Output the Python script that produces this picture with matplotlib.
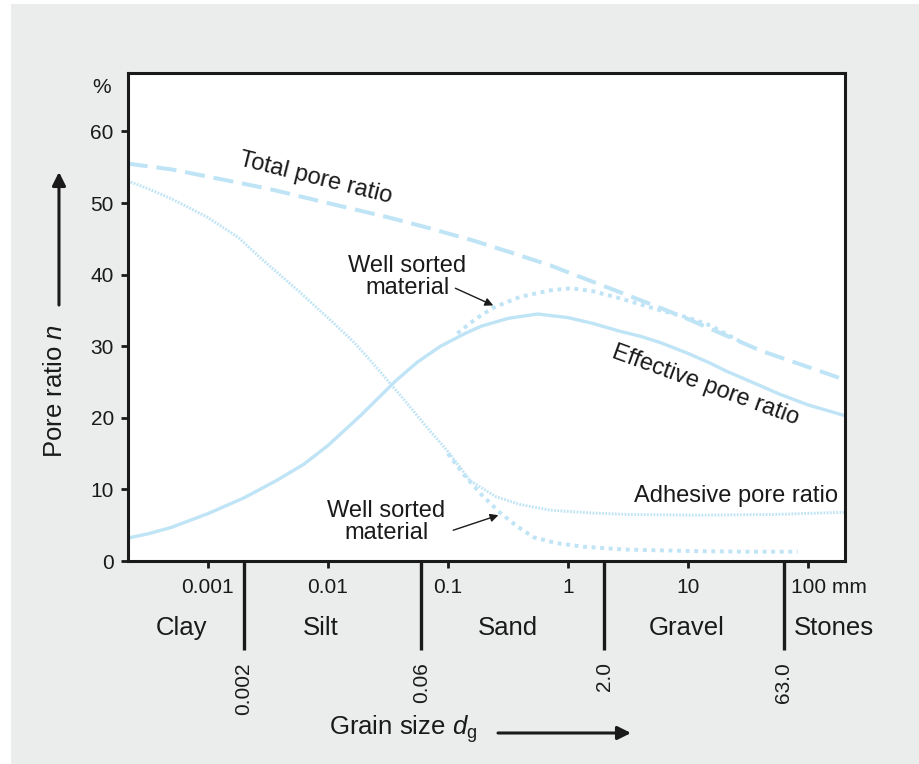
import matplotlib
matplotlib.use("Agg")
import matplotlib.pyplot as plt
from matplotlib.patches import Rectangle
from matplotlib.transforms import ScaledTranslation

plt.rcParams['font.family'] = ['Liberation Sans', 'DejaVu Sans']
plt.rcParams['mathtext.fontset'] = 'custom'
plt.rcParams['mathtext.rm'] = 'Liberation Sans'
plt.rcParams['mathtext.it'] = 'Liberation Sans:italic'

# grain size in mm, pore ratio in %
size_total = [2.16e-4, 5e-4, 1e-3, 3.2e-3, 0.01, 0.032, 0.063, 0.16, 0.32,
              0.71, 2, 6, 10, 20, 40, 100, 203]
total = [55.5, 54.7, 53.7, 52.0, 50.0, 48.0, 46.7, 44.8, 43.2,
         41.3, 38.4, 35.3, 33.8, 31.6, 29.4, 27.1, 25.3]

size_eff = [2.16e-4, 3.2e-4, 5e-4, 1e-3, 2e-3, 3.8e-3, 6.3e-3, 0.01, 0.019,
            0.037, 0.056, 0.087, 0.14, 0.19, 0.32, 0.56, 1.0, 1.6, 2.7, 4,
            5.9, 10, 15, 21, 35, 58, 100, 203]
effective = [3.2, 3.8, 4.7, 6.6, 8.8, 11.3, 13.5, 16.1, 20.4,
             25.2, 27.8, 30.0, 31.8, 32.8, 33.9, 34.5, 34.0, 33.2, 32.1, 31.4,
             30.5, 29.0, 27.7, 26.5, 24.9, 23.3, 21.8, 20.3]

size_adh = [2.16e-4, 3.2e-4, 5e-4, 1e-3, 1.8e-3, 2.9e-3, 5.9e-3, 0.01, 0.016,
            0.0227, 0.04, 0.063, 0.1, 0.154, 0.25, 0.4, 0.71, 1.6, 3.2,
            12.6, 50, 203]
adhesive = [53.1, 52.0, 50.6, 48.0, 45.2, 42.0, 37.5, 34.0, 30.8,
            28.0, 23.2, 19.2, 15.3, 11.2, 9.0, 7.9, 7.1, 6.7, 6.5,
            6.4, 6.5, 6.8]

size_ws_adh = [0.1, 0.14, 0.19, 0.27, 0.38, 0.52, 0.8, 1.34, 3, 10, 30, 82]
ws_adhesive = [15.0, 11.8, 9.3, 6.8, 4.8, 3.3, 2.5, 2.0, 1.6, 1.4, 1.3, 1.3]

size_ws_eff = [0.12, 0.17, 0.24, 0.4, 0.71, 1.05, 1.6, 2.7, 5.9, 10, 15.3, 27]
ws_effective = [31.8, 33.8, 35.4, 36.9, 37.8, 38.1, 37.7, 36.7, 35.0, 34.0, 32.9, 30.7]

x_ticks = [0.001, 0.01, 0.1, 1, 10, 100]
x_tick_labels = ["0.001", "0.01", "0.1", "1", "10", "100 mm"]
y_ticks = [0, 10, 20, 30, 40, 50, 60]

boundaries = [0.002, 0.06, 2.0, 63.0]
boundary_labels = ["0.002", "0.06", "2.0", "63.0"]
classes = ["Clay", "Silt", "Sand", "Gravel", "Stones"]
class_pos = [6.08e-4, 8.7e-3, 0.319, 9.84, 164]

blue = '#bfe4f6'
ink = '#1a1a1a'

fig = plt.figure(figsize=(9.2, 7.64), dpi=100)
fig.patch.set_facecolor('white')
fig.add_artist(Rectangle((11 / 920, 0), 1, 1 - 4 / 764, transform=fig.transFigure,
                         facecolor='#ebecec', edgecolor='none', zorder=-10))
ax = fig.add_axes([0.1388, 0.2657, 0.7797, 0.6391])
ax.set_facecolor('white')

ax.plot(size_total, total, color=blue, lw=2.9, linestyle=(0, (5, 2.2)),
        dash_capstyle='butt')
ax.plot(size_eff, effective, color=blue, lw=2.4, solid_capstyle='butt')
ax.plot(size_adh, adhesive, color=blue, lw=2.1, linestyle=(0, (0.6, 0.5)))
ax.plot(size_ws_adh, ws_adhesive, color=blue, lw=2.8, linestyle=(0, (1, 1.2)))
ax.plot(size_ws_eff, ws_effective, color=blue, lw=2.8, linestyle=(0, (1, 1.2)))

ax.set_xscale('log')
ax.set_xlim(2.16e-4, 203)
ax.set_ylim(0, 68.2)
ax.set_xticks(x_ticks)
ax.set_xticklabels(x_tick_labels)
ax.minorticks_off()
ax.set_yticks(y_ticks)
ax.tick_params(axis='both', direction='out', length=5, width=2, color=ink,
               labelsize=15, labelcolor=ink, pad=5)
ax.tick_params(axis='x', pad=7)
# "100 mm": keep the number centred on its tick
last = ax.get_xticklabels()[-1]
last.set_horizontalalignment('left')
last.set_transform(last.get_transform() + ScaledTranslation(-0.172, 0, fig.dpi_scale_trans))
for s in ax.spines.values():
    s.set_linewidth(2.2)
    s.set_color(ink)

ax.text(-0.036, 0.969, "%", transform=ax.transAxes, ha='center', va='center',
        fontsize=15, color=ink)

# curve labels
ax.text(7.9e-3, 53.4, "Total pore ratio", rotation=-14, ha='center', va='center',
        fontsize=17, color=ink, rotation_mode='anchor')
ax.text(13.9, 24.5, "Effective pore ratio", rotation=-20, ha='center', va='center',
        fontsize=17, color=ink, rotation_mode='anchor')
ax.text(178, 9.1, "Adhesive pore ratio", ha='right', va='center',
        fontsize=17, color=ink)

ax.text(0.0462, 39.6, "Well sorted\nmaterial", ha='center', va='center',
        fontsize=17, color=ink, linespacing=1.0)
ax.annotate("", xy=(0.239, 35.7), xytext=(0.1156, 38.1),
            arrowprops=dict(arrowstyle='-|>', color=ink, lw=1.0, mutation_scale=12,
                            shrinkA=0, shrinkB=0))
ax.text(0.0308, 5.4, "Well sorted\nmaterial", ha='center', va='center',
        fontsize=17, color=ink, linespacing=1.0)
ax.annotate("", xy=(0.264, 6.4), xytext=(0.111, 4.3),
            arrowprops=dict(arrowstyle='-|>', color=ink, lw=1.0, mutation_scale=12,
                            shrinkA=0, shrinkB=0))

# grain classes below the axis
tr = ax.get_xaxis_transform()
for b, lab in zip(boundaries, boundary_labels):
    ax.plot([b, b], [0, -0.182], transform=tr, color=ink, lw=2.4, clip_on=False,
            solid_capstyle='butt')
    ax.text(b, -0.207, lab, transform=tr, rotation=90, ha='center', va='top',
            fontsize=15, color=ink)
for c, xp in zip(classes, class_pos):
    ax.text(xp, -0.1515, c, transform=tr, ha='center', va='baseline',
            fontsize=18.5, color=ink)

# axis titles with arrows
fig.text(0.0598, 0.4882, "Pore ratio $n$", rotation=90, ha='center', va='center',
         fontsize=18.5, color=ink)
ax.annotate("", xy=(0.0641, 1 - 172 / 764), xytext=(0.0641, 1 - 305 / 764),
            xycoords='figure fraction', textcoords='figure fraction',
            arrowprops=dict(arrowstyle='-|>', color=ink, lw=2.2, mutation_scale=20,
                            shrinkA=0, shrinkB=0))
fig.text(403 / 920, 1 - 729 / 764, "Grain size $d_\\mathrm{g}$", ha='center', va='center',
         fontsize=18.5, color=ink)
ax.annotate("", xy=(631 / 920, 1 - 733 / 764), xytext=(498 / 920, 1 - 733 / 764),
            xycoords='figure fraction', textcoords='figure fraction',
            arrowprops=dict(arrowstyle='-|>', color=ink, lw=2.2, mutation_scale=20,
                            shrinkA=0, shrinkB=0))

fig.savefig("out.png", dpi=100)
